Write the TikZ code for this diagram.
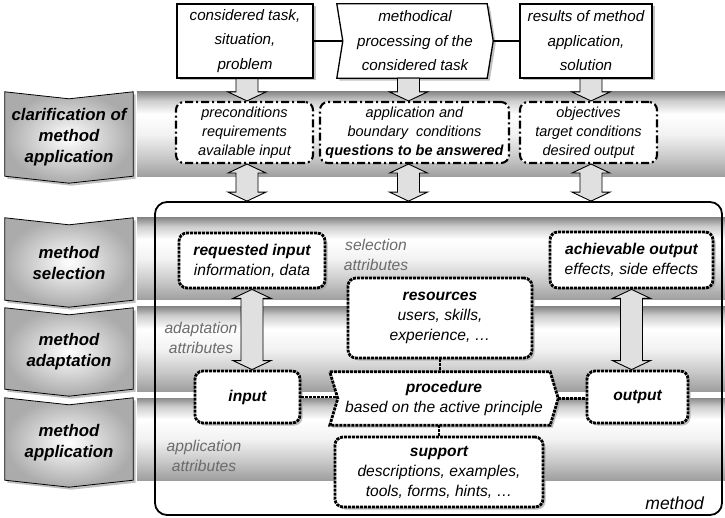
\documentclass[tikz,border=0pt]{standalone}
\usepackage{fontspec}
\setmainfont{Liberation Sans}
\usetikzlibrary{calc,shadows}

% soft "pipe" look of the phase bands (0bp = bottom edge, 100bp = top edge)
\pgfdeclareverticalshading{pipeband}{100bp}{color(0bp)=(black!40); color(25bp)=(black!38); color(36bp)=(black!22); color(50bp)=(black!5); color(62bp)=(white); color(70bp)=(black!20); color(75bp)=(black!46); color(100bp)=(black!46)}

\pgfdeclarelayer{back}
\pgfdeclarelayer{shapes}
\pgfsetlayers{back,shapes,main}

% outline of a phase label: notched top edge, pointed bottom edge
\newcommand\phaseoutline[1]{%
  \path[stageshape] ($(#1.north west)+(0,-7)$) -- (#1.north) -- ($(#1.north east)+(0,-7)$)
    -- (#1.south east) -- ($(#1.south)+(0,7)$) -- (#1.south west) -- cycle;}

\begin{document}
\begin{tikzpicture}[x=1pt,y=-1pt,
  every node/.style={inner sep=0pt, align=center},
  softshadow/.style={drop shadow={shadow xshift=2.5pt, shadow yshift=-2.5pt, fill=black!35, opacity=0.7}},
  taskfont/.style={font=\fontsize{15.2}{24.5}\selectfont\itshape},
  taskbox/.style={taskfont, draw, line width=1.3pt, fill=white, softshadow},
  stagecore/.style={font=\fontsize{16.8}{21}\selectfont\bfseries\itshape, minimum width=128},
  stageshape/.style={draw, line width=0.8pt, shade, shading=radial, inner color=white, outer color=black!33, softshadow},
  band/.style={shading=pipeband},
  questbox/.style={draw, line width=2.1pt, dash pattern=on 8pt off 3pt on 2pt off 3pt, rounded corners=8pt, fill=white, font=\fontsize{14.5}{19}\selectfont\itshape},
  partfont/.style={font=\fontsize{15.6}{20}\selectfont\itshape},
  partbox/.style={partfont, draw, line width=2.8pt, dash pattern=on 3pt off 1pt, rounded corners=8pt, fill=white, softshadow},
  partshape/.style={draw, line width=2.8pt, dash pattern=on 3pt off 1pt, fill=white, softshadow},
  link/.style={line width=2pt},
  dotlink/.style={line width=2.8pt, dash pattern=on 3pt off 1pt},
  attr/.style={text=black!58, font=\fontsize{15.6}{20}\selectfont\itshape},
  hollow/.style={draw, line width=0.9pt, fill=black!12, line join=miter},
  downarrow/.style={hollow, to path={let \p1=(\tikztostart), \p2=(\tikztotarget) in
     (\x1-11pt,\y1) -- (\x1+11pt,\y1) -- (\x1+11pt,\y2+9pt) -- (\x1+19pt,\y2+9pt) -- (\x1,\y2)
     -- (\x1-19pt,\y2+9pt) -- (\x1-11pt,\y2+9pt) -- cycle}},
  twoarrow/.style={hollow, to path={let \p1=(\tikztostart), \p2=(\tikztotarget) in
     (\x1,\y1) -- (\x1+19pt,\y1-9pt) -- (\x1+11pt,\y1-9pt) -- (\x1+11pt,\y2+9pt) -- (\x1+19pt,\y2+9pt)
     -- (\x1,\y2) -- (\x1-19pt,\y2+9pt) -- (\x1-11pt,\y2+9pt) -- (\x1-11pt,\y1-9pt) -- (\x1-19pt,\y1-9pt) -- cycle}},
]
\useasboundingbox (0,0) rectangle (725,518);

% phase bands
\begin{pgfonlayer}{back}
  \foreach \a/\b in {92/177, 218/300, 307/391, 398/480}
    \shade[band] (137,\a) rectangle (725,\b);
\end{pgfonlayer}

% phase labels
\node[stagecore, minimum height=77] (S1) at (69,137.5) {clarification of\\method\\application};
\node[stagecore, minimum height=75] (S2) at (69,262.5) {method\\selection};
\node[stagecore, minimum height=74] (S3) at (69,352) {method\\adaptation};
\node[stagecore, minimum height=75] (S4) at (69,442.5) {method\\application};
\begin{pgfonlayer}{shapes}
  \phaseoutline{S1}\phaseoutline{S2}\phaseoutline{S3}\phaseoutline{S4}
\end{pgfonlayer}

% task level
\node[taskbox, minimum width=136, minimum height=74] (T1) at (245,41) {considered task,\\situation,\\problem};
\node[taskfont, minimum width=144, minimum height=74] (T2) at (415,41) {methodical\\processing of the\\considered task};
\coordinate (T2tip) at ($(T2.east)+(6,0)$);
\node[taskbox, minimum width=132, minimum height=74] (T3) at (586,41) {results of method\\application,\\solution};
\begin{pgfonlayer}{shapes}
  \path[draw, line width=1.3pt, fill=white, softshadow] ($(T2.north west)+(-6,0)$) -- (T2.north east) -- (T2tip)
    -- (T2.south east) -- ($(T2.south west)+(-6,0)$) -- (T2.west) -- cycle;
\end{pgfonlayer}
\draw[link] (T1.east) -- (T2.west);
\draw[link] (T2tip) -- (T3.west);

% method frame
\node[draw, line width=1.8pt, rounded corners=12pt, minimum width=567, minimum height=313] (M) at (438.5,358.5) {};
\node[font=\fontsize{17.5}{20}\selectfont\itshape, anchor=east] (Mlab) at (704,503) {method};

% clarification level
\node[questbox, minimum width=137, minimum height=61] (D1) at (244.5,132.5) {preconditions\\requirements\\available input};
\node[questbox, minimum width=189, minimum height=61] (D2) at (414.5,132.5) {application and\\boundary\ \ conditions\\\textbf{questions to be answered}};
\node[questbox, minimum width=137, minimum height=61] (D3) at (588.5,132.5) {objectives\\target conditions\\desired output};

% method elements
\node[partbox, minimum width=146, minimum height=55] (RI) at (252,260.5) {\textbf{requested input}\\information, data};
\node[partbox, minimum width=163, minimum height=56] (AO) at (631.5,260) {\textbf{achievable output}\\effects, side effects};
\node[partbox, minimum width=184, minimum height=80] (RS) at (440,318) {\textbf{resources}\\users, skills,\\experience, …};
\node[partbox, minimum width=105, minimum height=52] (IN) at (247.5,397) {\textbf{input}};
\node[partfont, minimum width=212, minimum height=53] (PR) at (444,398.5) {\textbf{procedure}\\based on the active principle};
\coordinate (PRtip) at ($(PR.east)+(8,0)$);
\begin{pgfonlayer}{shapes}
  \path[partshape] ($(PR.north west)+(-8,0)$) -- (PR.north east) -- (PRtip)
    -- (PR.south east) -- ($(PR.south west)+(-8,0)$) -- (PR.west) -- cycle;
\end{pgfonlayer}
\node[partbox, minimum width=101, minimum height=52] (OUT) at (637.5,397) {\textbf{output}};
\node[partbox, minimum width=208, minimum height=70] (SU) at (439,472) {\textbf{support}\\descriptions, examples,\\tools, forms, hints, …};

% attribute labels
\node[attr] (selattr) at (376,255) {selection\\attributes};
\node[attr] (adaattr) at (201,338) {adaptation\\attributes};
\node[attr] (appattr) at (204,456) {application\\attributes};

% links inside the method
\draw[dotlink] (IN.east) -- (IN.east -| PR.west);
\draw[dotlink] (PRtip) -- (PRtip -| OUT.west);
\draw[dotlink] (RS.south) -- (RS.south |- PR.north);
\draw[dotlink] (SU.north) -- (SU.north |- PR.south);

% block arrows
\coordinate (c1) at (247,0);
\coordinate (c2) at (408.5,0);
\coordinate (c3) at (591,0);
\draw[downarrow] (c1 |- T1.south) to (c1 |- D1.north);
\draw[downarrow] (c2 |- T2.south) to (c2 |- D2.north);
\draw[downarrow] (c3 |- T3.south) to (c3 |- D3.north);
\draw[twoarrow] (c1 |- D1.south) to (c1 |- M.north);
\draw[twoarrow] (c2 |- D2.south) to (c2 |- M.north);
\draw[twoarrow] (c3 |- D3.south) to (c3 |- M.north);
\draw[twoarrow] (RI.south) to (RI.south |- IN.north);
\draw[twoarrow] (AO.south) to (AO.south |- OUT.north);
\end{tikzpicture}
\end{document}
